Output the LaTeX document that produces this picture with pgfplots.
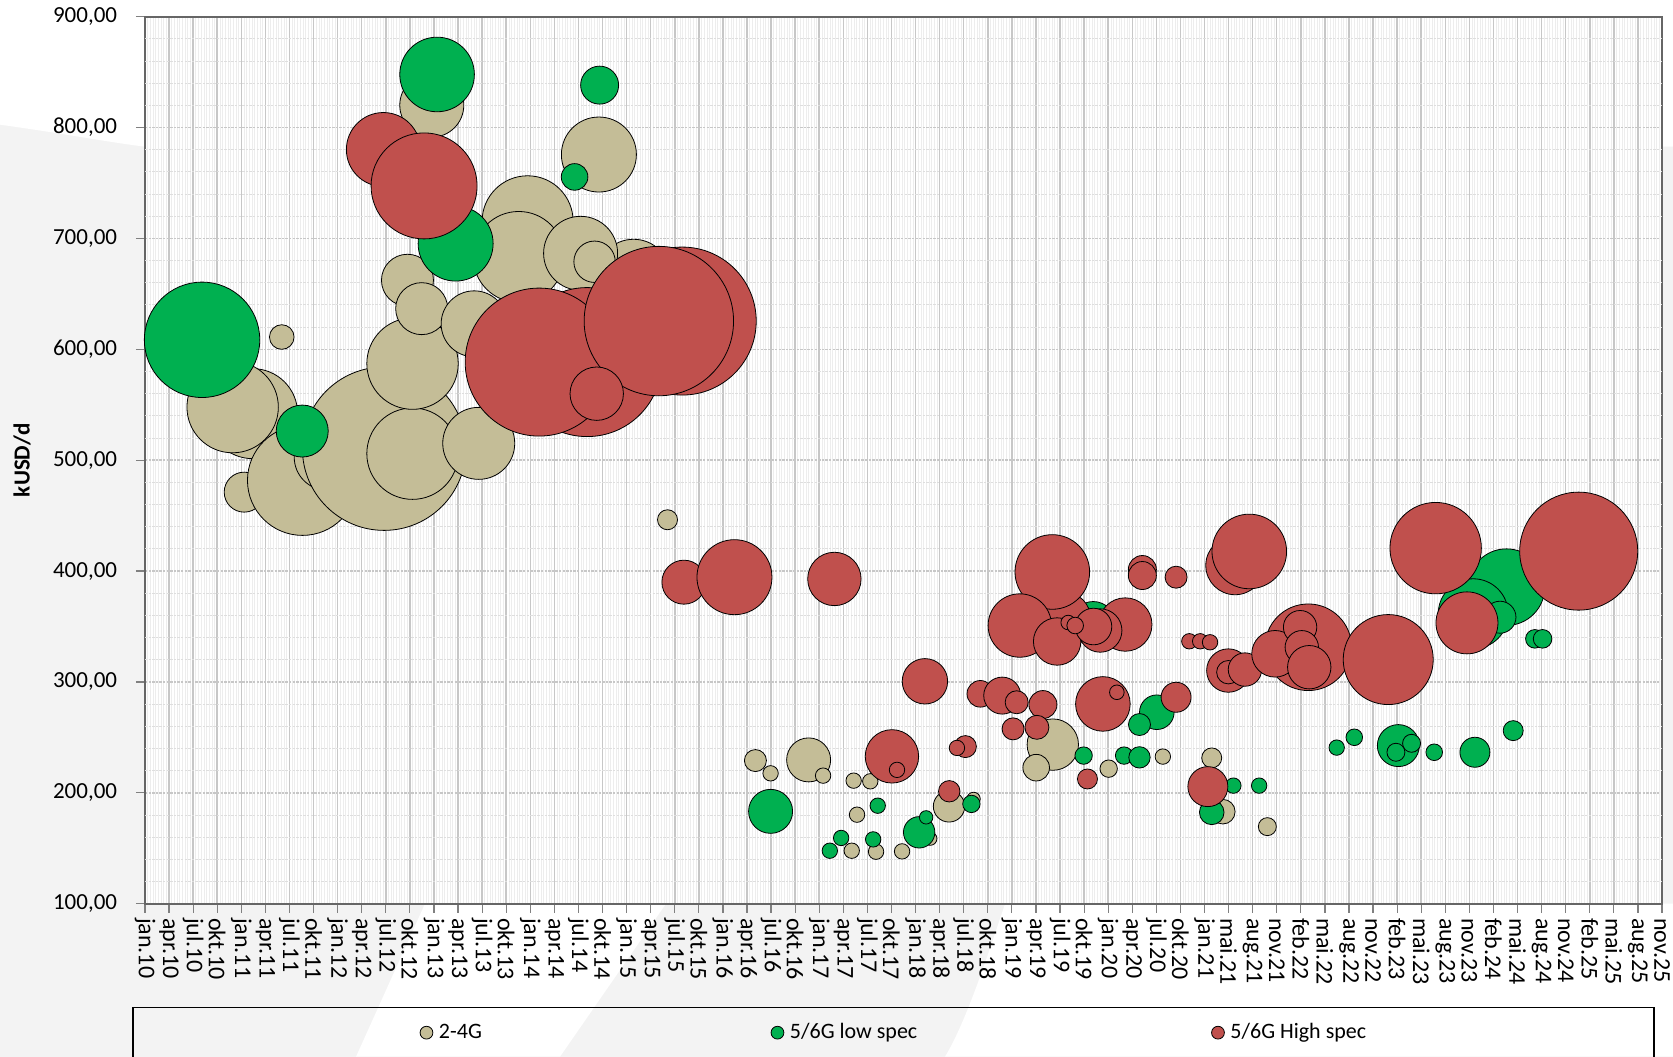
\documentclass[border=0pt]{standalone}
\usepackage{fontspec}
\setmainfont{Carlito}
\usepackage{pgfplots}
\usepackage{pgfplotstable}
\pgfplotsset{compat=1.18}
\definecolor{tanc}{RGB}{196,189,151}
\definecolor{greenc}{RGB}{0,176,80}
\definecolor{redc}{RGB}{192,80,77}
\definecolor{wm}{RGB}{243,243,243}

\pgfplotstableread{
t v r
4.47 542.0 22.5
3.64 547.9 22.85
5.68 611.1 6.15
4.12 471.2 10
6.54 481.8 27.5
7.58 502.8 16.65
9.93 510.4 40.85
11.11 505.9 22.85
11.11 587.1 22.85
10.90 662.3 13
11.49 636.7 13
11.91 820.2 16
15.89 715.5 22.75
15.52 683.3 22.75
20.29 665.9 18.5
18.09 686.6 18.5
18.67 679.0 10.35
13.67 623.0 16.5
13.86 515.2 18
18.85 775.7 18.75
21.70 446.3 5
25.35 229.1 5.5
25.98 217.6 3.85
27.56 229.7 11
28.16 215.5 3.85
29.43 211.0 3.85
30.12 210.4 3.85
29.57 180.3 3.85
29.35 147.8 3.85
30.36 146.9 3.85
31.44 147.2 3.85
32.61 158.7 3.35
33.39 187.8 7.85
34.41 194.5 3.35
37.70 243.5 12.85
37.01 222.7 6.65
40.02 221.8 4.35
42.27 232.7 3.85
44.30 231.5 5
44.76 183.0 6.15
46.61 169.5 4.5
}\tantable

\pgfplotstableread{
t v r
2.37 608.6 28.85
6.53 526.3 13
12.90 695.4 18.75
12.13 847.9 18.65
18.88 838.3 9.5
17.84 755.5 6.65
25.98 183.3 11
30.43 188.4 3.85
28.91 159.3 3.85
28.44 147.8 3.85
30.24 158.0 3.85
32.15 164.4 7.85
32.44 177.9 3.35
34.32 190.0 4.35
39.38 352.7 11
38.98 233.6 4.35
40.66 233.6 4.35
41.30 232.0 5.35
42.02 272.7 8.65
41.30 261.6 5.5
45.20 206.5 3.85
46.27 206.5 3.85
44.30 182.4 6.15
49.49 240.8 3.85
50.22 250.1 4.15
52.05 242.6 10.5
52.60 244.7 4.5
51.95 236.6 4.5
53.54 236.6 4.15
55.23 236.6 7.5
56.82 256.1 5
56.54 385.5 19.15
55.16 361.5 17.5
56.27 358.4 8
57.72 338.9 4.65
58.04 338.9 4.65
}\greentable

\pgfplotstableread{
t v r
9.90 780.2 18.5
11.59 747.4 26.5
22.31 625.5 37
18.36 588.5 37.25
16.37 588.5 37
21.34 625.5 37.35
18.76 560.0 13.35
22.38 390.0 11
24.48 394.5 18.75
28.63 392.9 13.35
31.02 232.9 13.35
31.23 220.7 3.85
32.39 300.6 11.35
33.40 201.4 5.35
34.07 241.7 5.5
33.72 240.5 3.85
34.69 289.3 6.65
35.60 287.7 9.25
36.20 281.7 5.75
37.29 279.6 7
36.05 257.7 5.5
37.04 259.1 6
39.14 212.5 5
39.78 280.2 13.65
40.36 290.7 3.65
38.22 358.1 12.5
37.68 399.2 18.65
36.33 350.9 15.85
37.88 336.5 11.85
40.71 351.8 13.35
39.67 346.4 10.85
39.39 350.0 9.15
38.34 353.6 3.65
38.63 350.9 4.15
41.42 401.4 7
41.42 396.0 7
42.82 394.5 5.5
42.82 286.2 7.5
44.14 205.6 10
43.37 336.7 3.85
43.82 336.7 3.85
44.23 335.8 3.85
45.27 405.1 14.65
45.86 417.7 18.65
44.99 310.3 10.85
44.99 308.8 5.85
45.68 311.2 8.35
48.31 331.3 21.65
46.93 325.4 11.65
47.97 349.4 8.35
48.04 331.3 8.35
48.35 313.3 10.85
51.63 320.2 22.5
53.60 420.7 22.85
54.90 353.3 15.5
59.54 418.0 29.5
}\redtable

\pgfplotsset{
  bub/.style={scatter, only marks, mark=*,
    scatter/use mapped color={draw=black, fill=#1},
    visualization depends on={\thisrow{r}\as\perpointmarksize},
    scatter/@pre marker code/.append style={/tikz/mark size=\perpointmarksize pt},
    mark options={line width=0.4pt},
    legend image code/.code={\draw[fill=#1, draw=black, line width=0.4pt] (0pt,0pt) circle (3.2pt);}
  }
}

\begin{document}
\begin{tikzpicture}
% watermark
\fill[wm] (-72.5pt,-76.5pt) rectangle (764pt,451.85pt);
\fill[white] (-72.5pt,451.85pt) -- (-72.5pt,389.5pt) .. controls (-40pt,385pt) and (-20pt,381pt) .. (0pt,378.5pt) -- (764pt,378.5pt) -- (764pt,451.85pt) -- cycle;
\fill[white] (140pt,0pt) -- (105.5pt,-76.5pt) -- (207.5pt,-76.5pt) -- (260.5pt,0pt) -- cycle;
\fill[white] (430pt,0pt) .. controls (420pt,-30pt) and (410pt,-60pt) .. (400pt,-76.5pt) -- (764pt,-76.5pt) -- (764pt,0pt) -- cycle;
\begin{axis}[
  at={(0pt,0pt)}, anchor=south west,
  scale only axis, width=758.5pt, height=443.5pt,
  xmin=0, xmax=63, ymin=100, ymax=900,
  axis background/.style={fill=white},
  xtick={0,...,63},
  xticklabels={jan.10,apr.10,jul.10,okt.10,jan.11,apr.11,jul.11,okt.11,jan.12,apr.12,jul.12,okt.12,jan.13,apr.13,jul.13,okt.13,jan.14,apr.14,jul.14,okt.14,jan.15,apr.15,jul.15,okt.15,jan.16,apr.16,jul.16,okt.16,jan.17,apr.17,jul.17,okt.17,jan.18,apr.18,jul.18,okt.18,jan.19,apr.19,jul.19,okt.19,jan.20,apr.20,jul.20,okt.20,jan.21,mai.21,aug.21,nov.21,feb.22,mai.22,aug.22,nov.22,feb.23,mai.23,aug.23,nov.23,feb.24,mai.24,aug.24,nov.24,feb.25,mai.25,aug.25,nov.25},
  minor x tick num=8,
  ytick={100,200,...,900},
  extra y ticks={120,140,160,180,220,240,260,280,320,340,360,380,420,440,460,480,520,540,560,580,620,640,660,680,720,740,760,780,820,840,860,880},
  extra y tick labels={},
  extra y tick style={major tick length=0pt, grid=major, major grid style={draw=black!13, line width=0.5pt}},
  grid=both,
  major grid style={draw=black!22, line width=0.75pt},
  minor grid style={draw=black!7, line width=0.35pt},
  y grid style={dash pattern=on 1.2pt off 0.6pt},
  tick pos=left, tick align=outside,
  major tick length=4.5pt, minor tick length=0pt,
  tick style={draw=black!50, line width=0.6pt},
  axis line style={draw=black!60, line width=0.8pt},
  /pgf/number format/assume math mode=true,
  yticklabel style={font=\fontsize{11.5}{13}\selectfont, anchor=east, inner sep=0pt, xshift=-9.25pt,
    /pgf/number format/.cd, fixed, fixed zerofill, precision=2, use comma},
  xticklabel style={font=\fontsize{12}{14}\selectfont, rotate=-90, anchor=west, inner sep=0pt, xshift=2.5pt},
  ylabel={\textbf{kUSD/d}},
  ylabel style={at={(axis description cs:-0.0811,0.5)}, anchor=center, font=\fontsize{11.5}{13}\selectfont},
  legend style={at={(0.1808,-0.1454)}, anchor=west, draw=none, fill=none, inner sep=0pt,
    font=\fontsize{11}{13}\selectfont, nodes={inner sep=0pt}},
  legend columns=3, legend cell align=left,
]
\addplot[bub=tanc] table[x=t, y=v] {\tantable};
\addlegendentry{\makebox[168.7pt][l]{\hspace*{2.85pt}2-4G}}
\addplot[bub=greenc] table[x=t, y=v] {\greentable};
\addlegendentry{\makebox[213.45pt][l]{\hspace*{2.85pt}5/6G low spec}}
\addplot[bub=redc] table[x=t, y=v] {\redtable};
\addlegendentry{\hspace*{2.85pt}5/6G High spec}
\end{axis}
\draw[black, line width=0.65pt] (-6pt,-52pt) rectangle (754.5pt,-110pt);
\pgfresetboundingbox
\path[use as bounding box] (-72.5pt,-76.5pt) rectangle (764pt,451.85pt);
\end{tikzpicture}
\end{document}
